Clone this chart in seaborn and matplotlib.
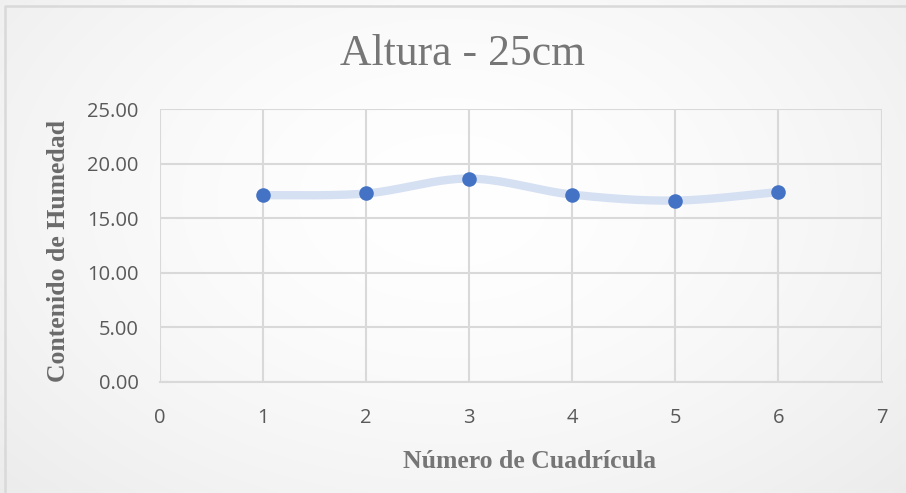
import numpy as np
import pandas as pd
import matplotlib
matplotlib.use("Agg")
import matplotlib.pyplot as plt
from matplotlib.lines import Line2D
import seaborn as sns

# Moisture content per grid cell at 25 cm height
cuadricula = [1, 2, 3, 4, 5, 6]
humedad = [17.11, 17.27, 18.64, 17.17, 16.62, 17.41]
xticks = [0, 1, 2, 3, 4, 5, 6, 7]
yticks = [0, 5, 10, 15, 20, 25]

W, H = 906, 493
sns.set_theme(style="white")
plt.rcParams["font.family"] = ["Open Sans", "DejaVu Sans"]

fig = plt.figure(figsize=(W / 100, H / 100), dpi=100)

# soft radial background
bg = fig.add_axes([0, 0, 1, 1], zorder=-10)
yy, xx = np.mgrid[0:H, 0:W]
r = np.sqrt(((xx - 450) / 620.0) ** 2 + ((yy - 200) / 420.0) ** 2)
shade = 1.0 - 0.075 * np.clip(r, 0, 1.3) ** 1.6
bg.imshow(np.dstack([shade] * 3), extent=[0, W, H, 0], aspect="auto")
bg.set_axis_off()
bg.set_xlim(0, W)
bg.set_ylim(H, 0)
# chart frame (top and left edges visible)
bg.add_line(Line2D([5, 5, W + 5], [H + 5, 6, 6], color="#d9d9d9", lw=1.8))

left, right, top, bottom = 159.5, 881.5, 109.3, 381.6
ax = fig.add_axes([left / W, 1 - bottom / H, (right - left) / W, (bottom - top) / H])
ax.set_facecolor("none")


def smooth(xs, ys, n=40):
    """Catmull-Rom curve through the points, like a smoothed line chart."""
    p = np.column_stack([xs, ys]).astype(float)
    p = np.vstack([p[0], p, p[-1]])
    out = []
    for i in range(1, len(p) - 2):
        p0, p1, p2, p3 = p[i - 1], p[i], p[i + 1], p[i + 2]
        t = np.linspace(0, 1, n, endpoint=(i == len(p) - 3))[:, None]
        c = 0.5 * ((2 * p1) + (-p0 + p2) * t + (2 * p0 - 5 * p1 + 4 * p2 - p3) * t ** 2
                   + (-p0 + 3 * p1 - 3 * p2 + p3) * t ** 3)
        out.append(c)
    c = np.vstack(out)
    return c[:, 0], c[:, 1]


sx, sy = smooth(cuadricula, humedad)
curve = pd.DataFrame({"x": sx, "y": sy})
pts = pd.DataFrame({"Número de Cuadrícula": cuadricula, "Contenido de Humedad": humedad})

sns.lineplot(data=curve, x="x", y="y", ax=ax, color="#d6e0f3", lw=6,
             sort=False, estimator=None, solid_capstyle="round", zorder=3)
sns.scatterplot(data=pts, x="Número de Cuadrícula", y="Contenido de Humedad", ax=ax,
                color="#4472c4", s=110, edgecolor="#4472c4", linewidth=0, zorder=4)

ax.set_xlim(0, 7)
ax.set_ylim(0, 25)
ax.set_xticks(xticks)
ax.set_yticks(yticks)
ax.set_xticklabels([str(v) for v in xticks])
ax.set_yticklabels([f"{v:.2f}" for v in yticks])
ax.grid(True, color="#d9d9d9", lw=1.5)
ax.set_axisbelow(True)
for s in ["top", "right", "left"]:
    ax.spines[s].set_visible(False)
ax.spines["bottom"].set_color("#d9d9d9")
ax.spines["bottom"].set_linewidth(1.5)
ax.tick_params(axis="both", length=0, labelsize=14.5, colors="#595959")
ax.tick_params(axis="x", pad=19)
ax.tick_params(axis="y", pad=15)
ax.set_xlabel("")
ax.set_ylabel("")

fig.text(463 / W, 1 - 54 / H, "Altura - 25cm", ha="center", va="center",
         family="Liberation Serif", fontsize=31.5, color="#767676")
fig.text(530 / W, 1 - 462 / H, "Número de Cuadrícula", ha="center", va="center",
         family="Liberation Serif", fontweight="bold", fontsize=18.5, color="#767676")
fig.text(59 / W, 1 - 251 / H, "Contenido de Humedad", ha="center", va="center",
         rotation=90, family="Liberation Serif", fontweight="bold", fontsize=18.5,
         color="#6a6a6a")

fig.savefig("out.png", dpi=100)
